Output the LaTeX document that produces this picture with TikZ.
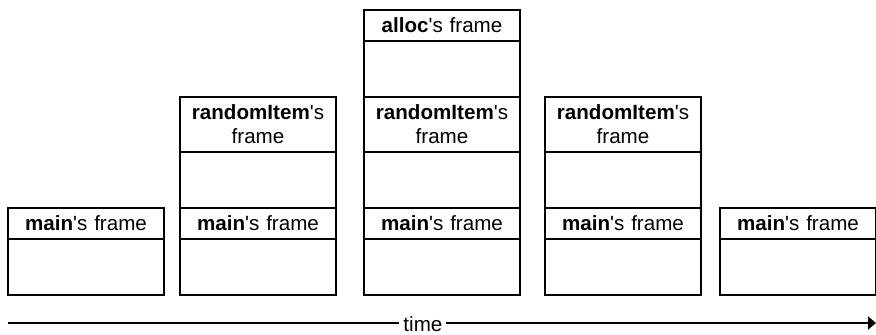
\documentclass[tikz,border=0pt]{standalone}
\usepackage{fontspec}
\setmainfont{Liberation Sans}
\usepackage{tikz}
\usetikzlibrary{arrows.meta,positioning}

\begin{document}
\begin{tikzpicture}[
  font=\fontsize{10.3pt}{12pt}\selectfont,
  frame/.style={rectangle, draw=black, line width=0.85pt, align=center, inner sep=0pt, outer sep=0pt, minimum width=78pt, text width=78pt},
  head/.style={frame, minimum height=15.5pt},
  tallhead/.style={frame, minimum height=27.5pt},
  body/.style={frame, minimum height=28pt},
  arr/.style={-{Triangle[length=4pt, width=6.5pt]}, line width=0.85pt}
]
\useasboundingbox (0,0) rectangle (438pt,167pt);

% bottom row: main's frame at every step
\node[head] (m1) at (43pt,55.25pt) {\textbf{main}\textquotesingle s frame};
\node[body, below=0pt of m1] (m1b) {};
\node[head, right=8pt of m1] (m2) {\textbf{main}\textquotesingle s frame};
\node[body, below=0pt of m2] (m2b) {};
\node[head, right=14pt of m2] (m3) {\textbf{main}\textquotesingle s frame};
\node[body, below=0pt of m3] (m3b) {};
\node[head, right=12.5pt of m3] (m4) {\textbf{main}\textquotesingle s frame};
\node[body, below=0pt of m4] (m4b) {};
\node[head, right=9.5pt of m4] (m5) {\textbf{main}\textquotesingle s frame};
\node[body, below=0pt of m5] (m5b) {};

% randomItem pushed on top of main
\node[body, above=0pt of m2] (r2b) {};
\node[tallhead, above=0pt of r2b] (r2) {\textbf{randomItem}\textquotesingle s\\ frame};
\node[body, above=0pt of m3] (r3b) {};
\node[tallhead, above=0pt of r3b] (r3) {\textbf{randomItem}\textquotesingle s\\ frame};
\node[body, above=0pt of m4] (r4b) {};
\node[tallhead, above=0pt of r4b] (r4) {\textbf{randomItem}\textquotesingle s\\ frame};

% alloc on top of randomItem
\node[body, above=0pt of r3] (a3b) {};
\node[head, above=0pt of a3b] (a3) {\textbf{alloc}\textquotesingle s frame};

% time axis
\coordinate (t0) at (4pt,5.5pt);
\coordinate (t1) at (438pt,5.5pt);
\draw[arr] (t0) -- node[pos=0.478, fill=white, inner xsep=2pt, inner ysep=1pt, yshift=-0.4pt] (time) {time} (t1);
\end{tikzpicture}
\end{document}
